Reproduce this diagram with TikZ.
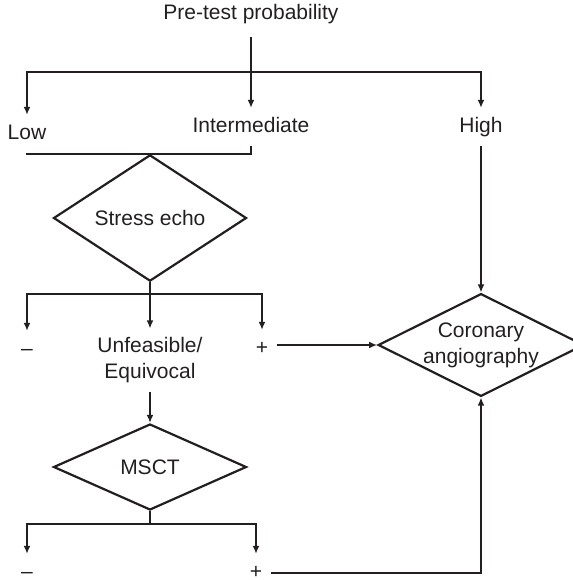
\documentclass[tikz,border=0pt]{standalone}
\usepackage{fontspec}
\setmainfont{Liberation Sans}
\usetikzlibrary{arrows.meta,shapes.geometric}
\definecolor{ink}{HTML}{231F20}
\begin{document}
\begin{tikzpicture}[x=0.5pt,y=-0.5pt,ink,line width=0.75pt,
    lbl/.style={font=\fontsize{10.5}{13}\selectfont,text=ink,text height=8pt,text depth=2.4pt,inner sep=4pt},
    test/.style={diamond,draw,line width=1.1pt,font=\fontsize{10.5}{13}\selectfont,text=ink,inner sep=0pt,align=center},
    arr/.style={-{Latex[length=4pt,width=3.4pt]}}]
    \useasboundingbox (0,0) rectangle (573,580);
        % labels
        \node[lbl,inner sep=6pt](pre)at(251,14){Pre-test probability};
        \node[lbl](low)at(27,134){Low};
        \node[lbl](inter)at(251,127){Intermediate};
        \node[lbl](high)at(481,127){High};
        \node[test,minimum width=96.5pt,minimum height=43.5pt](stress)at(150,218){Stress echo};
        \node[lbl](neg1)at(27,350){--};
        \node[lbl,text height=,text depth=,align=center](unf)at(150,360){Unfeasible/\\Equivocal};
        \node[lbl](pos1)at(262,349){+};
        \node[test,aspect=2,minimum width=100pt,minimum height=50.5pt](cor)at(481,345){Coronary\\angiography};
        \node[test,minimum width=96.5pt,minimum height=43pt](msct)at(150,467){MSCT};
        \node[lbl](neg2)at(27,573){--};
        \node[lbl](pos2)at(256,573){+};
        % branch points
        \coordinate(b1)at(251,72);
        \coordinate(b2)at(150,294);
        \coordinate(b3)at(150,524);
        % connectors
        \draw[arr](pre)--(inter);
        \draw[arr](b1)-|(low);
        \draw[arr](b1)-|(high);
        \draw(low)|-(stress.north);
        \draw(inter)|-(stress.north);
        \draw[arr](high)--(cor);
        \draw[arr](stress)--(unf);
        \draw[arr](b2)-|(neg1);
        \draw[arr](b2)-|(pos1);
        \draw[arr](pos1.east|-cor.west)--(cor.west);
        \draw[arr](unf)--(msct);
        \draw[arr](msct.south)--(b3)-|(neg2);
        \draw[arr](b3)-|(pos2);
        \draw[arr](pos2)-|(cor);
    \end{tikzpicture}
\end{document}
